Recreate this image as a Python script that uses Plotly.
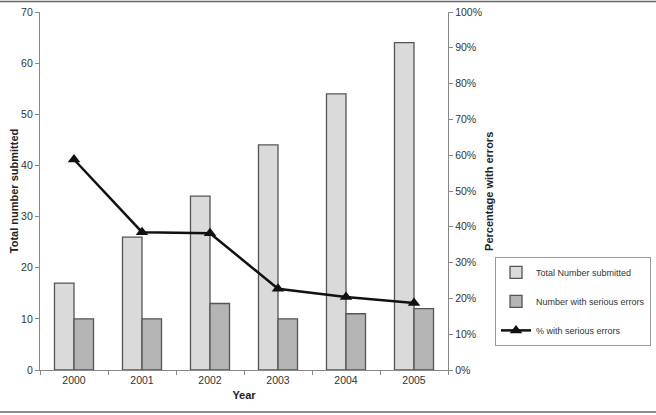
import plotly.graph_objects as go

years = ["2000", "2001", "2002", "2003", "2004", "2005"]
total_submitted = [17, 26, 34, 44, 54, 64]
serious_errors = [10, 10, 13, 10, 11, 12]
pct_serious = [0.588, 0.385, 0.382, 0.227, 0.204, 0.1875]

FONT = "Liberation Sans, Arial, sans-serif"

fig = go.Figure()
fig.add_trace(go.Bar(
    x=years, y=total_submitted, name="Total Number submitted",
    marker=dict(color="#dadada", line=dict(color="#555555", width=1.3)),
    legendgroup="a", yaxis="y"))
fig.add_trace(go.Bar(
    x=years, y=serious_errors, name="Number with serious errors",
    marker=dict(color="#b4b4b4", line=dict(color="#555555", width=1.3)),
    legendgroup="b", yaxis="y"))
fig.add_trace(go.Scatter(
    x=years, y=pct_serious, name="% with serious errors", mode="lines+markers",
    line=dict(color="#111111", width=2.5),
    marker=dict(symbol="triangle-up", size=11, color="#111111"),
    legendgroup="c", yaxis="y2"))

axis_common = dict(showline=True, linecolor="#888888", linewidth=1.2, ticks="outside",
                   tickcolor="#888888", ticklen=4, showgrid=False, zeroline=False,
                   automargin=False,
                   tickfont=dict(family=FONT, size=10.5, color="#333333"))

fig.update_layout(
    width=656, height=415,
    margin=dict(l=40, r=208, t=11.5, b=45),
    paper_bgcolor="white", plot_bgcolor="white",
    barmode="group", bargap=0.426, bargroupgap=0,
    font=dict(family=FONT, color="#333333"),
    xaxis=dict(**axis_common, tickson="boundaries",
               title=dict(text="<b>Year</b>", font=dict(family=FONT, size=11, color="#222222"), standoff=6)),
    yaxis=dict(**axis_common, range=[0, 70], dtick=10,
               title=dict(text="<b>Total number submitted</b>", font=dict(family=FONT, size=11, color="#222222"), standoff=0)),
    yaxis2=dict(**axis_common, range=[0, 1], dtick=0.1, tickformat=".0%", overlaying="y", side="right"),
    legend=dict(xref="container", yref="container", x=0.7546, y=0.381,
                xanchor="left", yanchor="top",
                bordercolor="#999999", borderwidth=1, bgcolor="white",
                font=dict(family=FONT, size=9, color="#333333"),
                tracegroupgap=10, traceorder="grouped"),
    showlegend=True,
)

fig.add_annotation(text="<b>Percentage with errors</b>", xref="paper", yref="paper",
                   x=1.12, y=0.5, textangle=-90, showarrow=False,
                   font=dict(family=FONT, size=11, color="#222222"))

# frame lines at top and bottom of the image
for yv in [1.029, -0.117]:
    fig.add_shape(type="line", xref="paper", yref="paper", x0=-0.1, x1=1.52, y0=yv, y1=yv,
                  line=dict(color="#666666", width=1.5))

fig.write_html("out.html", config={"displayModeBar": False},
               post_script="document.body.style.margin='0';document.body.style.overflow='hidden';")
